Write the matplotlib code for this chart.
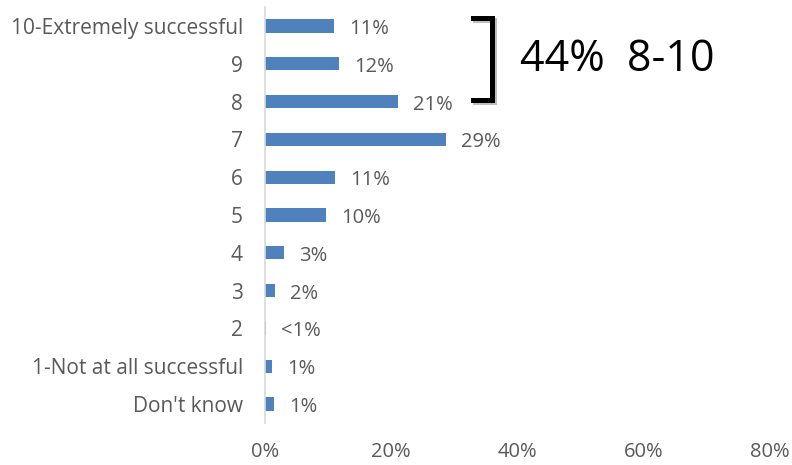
import matplotlib
matplotlib.use("Agg")
import matplotlib.pyplot as plt
import matplotlib.patheffects as pe
from matplotlib.lines import Line2D
from matplotlib.ticker import PercentFormatter

# Survey responses, top row first
categories = ["10-Extremely successful", "9", "8", "7", "6", "5", "4", "3", "2",
              "1-Not at all successful", "Don't know"]
shares = [10.9, 11.7, 21.1, 28.7, 11.1, 9.7, 3.0, 1.6, 0.1, 1.1, 1.4]
x_ticks = [0, 20, 40, 60, 80]
bracket_text = "44%  8-10"

bar_color = "#4f81bd"
text_color = "#595959"

plt.rcParams["font.family"] = ["Open Sans", "DejaVu Sans"]

fig = plt.figure(figsize=(7.92, 4.65), dpi=100)
ax = fig.add_axes([265 / 792, 1 - 423 / 465, (770 - 265) / 792, (423 - 7) / 465])

ypos = list(range(len(categories)))
ax.barh(ypos, shares, height=0.35, color=bar_color)

for y, v in zip(ypos, shares):
    label = "<1%" if v < 0.5 else f"{round(v)}%"
    ax.annotate(label, (v, y), xytext=(15, -3), textcoords="offset pixels",
                ha="left", va="center", fontsize=14.5, color=text_color)

ax.set_xlim(0, 80)
ax.set_ylim(len(categories) - 0.5, -0.5)
ax.set_xticks(x_ticks)
ax.xaxis.set_major_formatter(PercentFormatter(decimals=0))
ax.set_yticks(ypos)
ax.set_yticklabels(categories)
ax.tick_params(axis="y", length=0, pad=16, labelsize=15, labelcolor=text_color)
ax.tick_params(axis="x", length=0, pad=14, labelsize=14.5, labelcolor=text_color)

for side in ["top", "right", "bottom"]:
    ax.spines[side].set_visible(False)
ax.spines["left"].set_color("#d9d9d9")
ax.spines["left"].set_linewidth(1.2)

# Bracket grouping the top three ratings
def fx(px):
    return px / 792

def fy(py):
    return 1 - py / 465

bracket = Line2D([fx(473), fx(492), fx(492), fx(473)],
                 [fy(18), fy(18), fy(100), fy(100)],
                 transform=fig.transFigure, color="black", linewidth=3.6,
                 solid_joinstyle="miter",
                 path_effects=[pe.SimpleLineShadow(offset=(1.5, -1.5), alpha=0.25),
                               pe.Normal()])
fig.add_artist(bracket)
fig.text(fx(520), fy(60), bracket_text, ha="left", va="center",
         fontsize=31, color="black")

fig.savefig("out.png", dpi=100)
